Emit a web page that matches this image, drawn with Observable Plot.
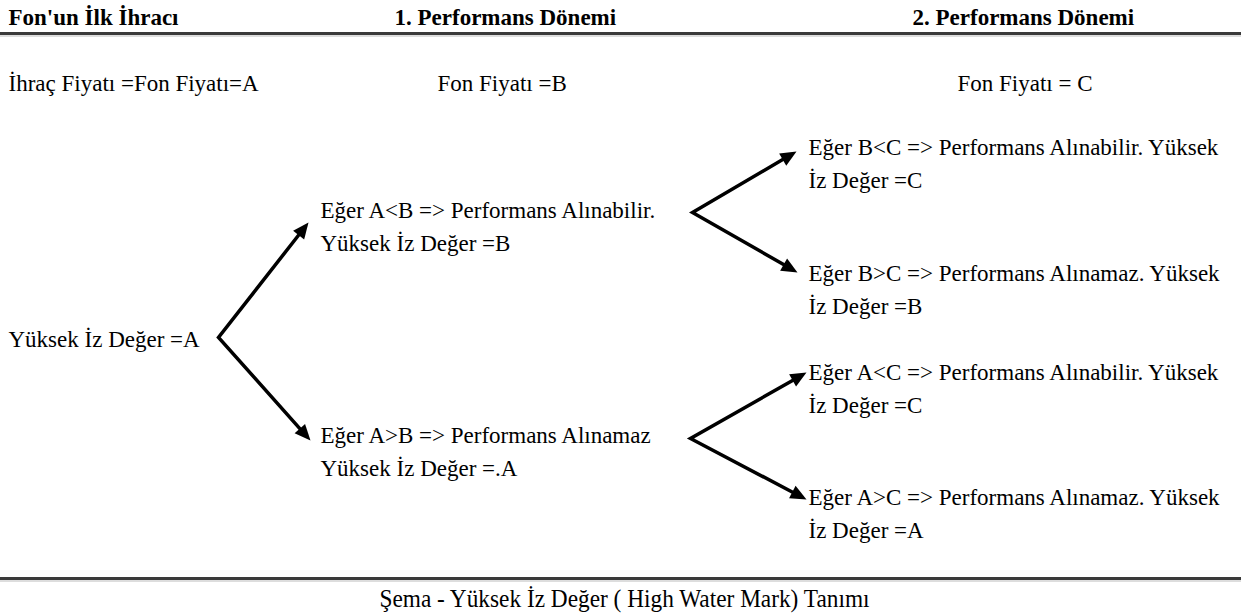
<!DOCTYPE html>
<html>
<head>
<meta charset="utf-8">
<script src="https://cdn.jsdelivr.net/npm/d3@7"></script>
<script src="https://cdn.jsdelivr.net/npm/@observablehq/plot@0.6"></script>
<style>
  html, body { margin: 0; padding: 0; background: #fff; }
</style>
</head>
<body>
<div id="chart"></div>
<script>
// ---- content ----
const headers = ["Fon'un İlk İhracı", "1. Performans Dönemi", "2. Performans Dönemi"];
const prices = ["İhraç Fiyatı =Fon Fiyatı=A", "Fon Fiyatı =B", "Fon Fiyatı = C"];
const rootLabel = ["Yüksek İz Değer =A"];
const period1Labels = [
  "Eğer A<B => Performans Alınabilir.\nYüksek İz Değer =B",
  "Eğer A>B => Performans Alınamaz\nYüksek İz Değer =.A"
];
const period2Labels = [
  "Eğer B<C => Performans Alınabilir. Yüksek\nİz Değer =C",
  "Eğer B>C => Performans Alınamaz. Yüksek\nİz Değer =B",
  "Eğer A<C => Performans Alınabilir. Yüksek\nİz Değer =C",
  "Eğer A>C => Performans Alınamaz. Yüksek\nİz Değer =A"
];
const caption = ["Şema - Yüksek İz Değer ( High Water Mark) Tanımı"];

// ---- layout (pixel positions of the diagram) ----
const W = 1241, H = 613;
const FONT = "Liberation Serif, DejaVu Serif, serif";
const headerX = [8, 394, 912], headerY = 24;
const priceX = [8, 437, 957], priceY = 90;
const rootPos = [8, 346];
const period1Pos = [[320, 250], [320, 475]];
const period2Pos = [[808, 187], [808, 313], [808, 412], [808, 537]];
const ruleY = [33, 578];
const forks = [
  {vertex: [218, 337], tips: [[308, 222], [310, 440]]},
  {vertex: [692, 212], tips: [[796, 151], [797, 272]]},
  {vertex: [690, 438], tips: [[806, 372], [806, 499]]}
];
const headLen = 16, headHalf = 7;

// build tables
const textRows = [];
headers.forEach((t, i) => textRows.push({x: headerX[i], y: headerY, t, bold: true}));
prices.forEach((t, i) => textRows.push({x: priceX[i], y: priceY, t, bold: false}));
textRows.push({x: rootPos[0], y: rootPos[1], t: rootLabel[0], bold: false});
period1Labels.forEach((t, i) => textRows.push({x: period1Pos[i][0], y: period1Pos[i][1], t, bold: false}));
period2Labels.forEach((t, i) => textRows.push({x: period2Pos[i][0], y: period2Pos[i][1], t, bold: false}));

const linePts = [];
const heads = [];
forks.forEach((f, k) => {
  const [vx, vy] = f.vertex;
  const ends = f.tips.map(([tx, ty]) => {
    const dx = tx - vx, dy = ty - vy, L = Math.hypot(dx, dy);
    heads.push({x: tx, y: ty, a: Math.atan2(dx, -dy) * 180 / Math.PI});
    return [tx - dx / L * (headLen - 3), ty - dy / L * (headLen - 3)];
  });
  linePts.push({x: ends[0][0], y: ends[0][1], k});
  linePts.push({x: vx, y: vy, k});
  linePts.push({x: ends[1][0], y: ends[1][1], k});
});

const arrowHead = {
  draw(ctx) {
    ctx.moveTo(0, 0);
    ctx.lineTo(-headHalf, headLen);
    ctx.lineTo(headHalf, headLen);
    ctx.closePath();
  }
};

const chart = Plot.plot({
  width: W,
  height: H,
  margin: 0,
  x: {domain: [0, W], range: [0, W], axis: null},
  y: {domain: [0, H], range: [0, H], axis: null},
  style: {background: "#fff", color: "#000"},
  marks: [
    Plot.ruleY(ruleY, {x1: 0, x2: W, stroke: "#3a3a3a", strokeWidth: 3}),
    Plot.ruleY(ruleY.map(v => v + 2.5), {x1: 0, x2: W, stroke: "#bbb", strokeWidth: 1}),
    Plot.line(linePts, {x: "x", y: "y", z: "k", stroke: "#000", strokeWidth: 3.5, strokeLinejoin: "miter", strokeMiterlimit: 10, curve: "linear"}),
    Plot.dot(heads, {x: "x", y: "y", rotate: "a", symbol: arrowHead, fill: "#000", stroke: "none"}),
    Plot.text(textRows.filter(d => d.bold), {x: "x", y: "y", text: "t", textAnchor: "start", lineAnchor: "bottom", fontFamily: FONT, fontSize: 23, fontWeight: "bold", fill: "#000"}),
    Plot.text(textRows.filter(d => !d.bold), {x: "x", y: "y", text: "t", textAnchor: "start", lineAnchor: "bottom", lineHeight: 33 / 23, fontFamily: FONT, fontSize: 23, fill: "#000"}),
    Plot.text(caption, {x: 624, y: 606, text: d => d, textAnchor: "middle", lineAnchor: "bottom", fontFamily: FONT, fontSize: 26, fill: "#000", className: "caption"})
  ]
});
// caption glyphs in the reference are tall and narrow
d3.select(chart).selectAll(".caption text").attr("textLength", 490).attr("lengthAdjust", "spacingAndGlyphs");
document.getElementById("chart").appendChild(chart);
</script>
</body>
</html>
